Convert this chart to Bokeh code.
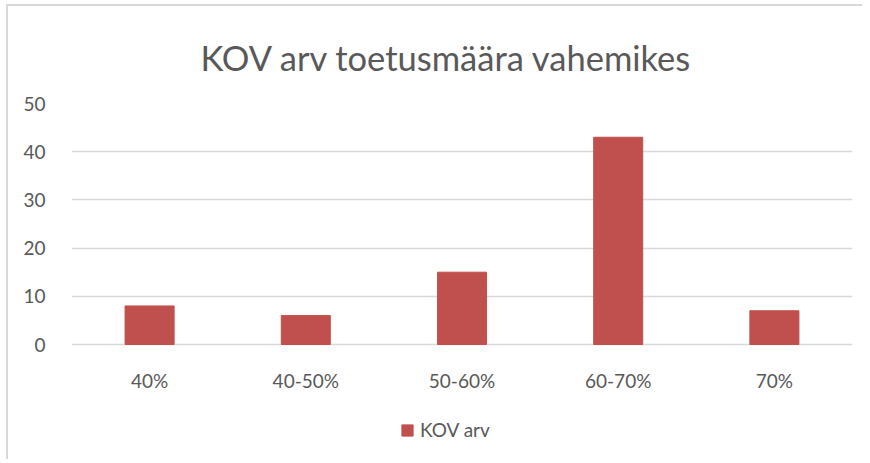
from bokeh.plotting import figure
from bokeh.models import ColumnDataSource, FactorRange, Range1d, FixedTicker, Legend, LegendItem
from bokeh.embed import file_html
from bokeh.resources import INLINE

categories = ["40%", "40-50%", "50-60%", "60-70%", "70%"]
kov_arv = [8, 6, 15, 43, 7]
y_ticks = [0, 10, 20, 30, 40, 50]
title_text = "KOV arv toetusmäära vahemikes"
series_name = "KOV arv"

TEXT = "#595959"
BAR = "#C0504D"
GRID = "#D9D9D9"
FONT = "Lato"

# frame: 50 at top, 0 at 241px below; frame extends further down for axis labels + legend
FRAME_H = 455 - 97 - 6
Y_MIN = 50 - FRAME_H * 50 / 241

src = ColumnDataSource(dict(cat=categories, val=kov_arv))

p = figure(
    width=856, height=455,
    x_range=FactorRange(*categories, range_padding=0),
    y_range=Range1d(Y_MIN, 50),
    output_backend="svg", toolbar_location=None,
    min_border_left=63, min_border_right=12, min_border_top=97, min_border_bottom=6,
)
p.styles = {"border-left": "2px solid #D9D9D9", "border-top": "2px solid #D9D9D9",
            "position": "relative", "left": "6px", "top": "4px"}
p.outline_line_color = None

p.title.text = title_text
p.title.align = "left"
p.title.text_font = FONT
p.title.text_font_size = "34.5px"
p.title.text_font_style = "normal"
p.title.text_color = TEXT
p.title.standoff = 52
p.title.offset = 129

r = p.vbar(x="cat", top="val", width=0.314, color=BAR, source=src)

p.xgrid.grid_line_color = None
p.ygrid.grid_line_color = GRID
p.ygrid.grid_line_width = 1.5
p.yaxis.ticker = FixedTicker(ticks=y_ticks)
p.xaxis.fixed_location = 0

for ax in (p.xaxis[0], p.yaxis[0]):
    ax.axis_line_color = None
    ax.major_tick_line_color = None
    ax.minor_tick_line_color = None
    ax.major_label_text_font = FONT
    ax.major_label_text_font_size = "19px"
    ax.major_label_text_color = TEXT
p.yaxis.major_label_standoff = 20
p.xaxis.major_label_standoff = 18

legend = Legend(items=[LegendItem(label=series_name, renderers=[r])],
                location=(329, 14), orientation="horizontal",
                border_line_color=None, background_fill_alpha=0,
                padding=0, margin=0, glyph_width=14, glyph_height=14,
                label_standoff=6, label_text_font=FONT, label_text_font_size="19px",
                label_text_color=TEXT)
p.add_layout(legend, "center")

open("out.html", "w").write(file_html(p, INLINE))
